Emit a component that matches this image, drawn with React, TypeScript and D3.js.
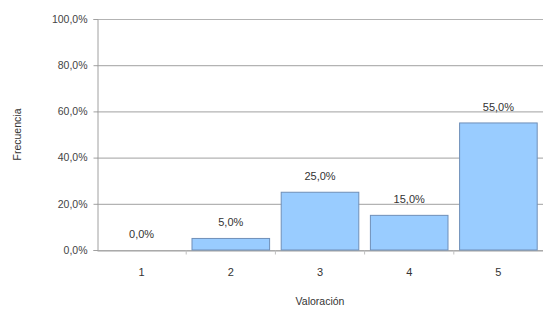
import * as d3 from 'd3';
import React, { useRef, useEffect } from 'react';

const categories = ['1', '2', '3', '4', '5'];
const frequencies = [0.0, 5.0, 25.0, 15.0, 55.0];
const yTicks = [0, 20, 40, 60, 80, 100];

const fmt = (v: number) => v.toFixed(1).replace('.', ',') + '%';

function App() {
    const ref = useRef<SVGSVGElement>(null);

    useEffect(() => {
        const width = 543;
        const height = 313;
        const margin = { top: 19, right: 0, bottom: 63, left: 97 };

        const svg = d3.select(ref.current)
            .attr('width', width)
            .attr('height', height);
        svg.selectAll('*').remove();

        svg.append('rect').attr('width', width).attr('height', height).attr('fill', '#ffffff');

        const x = d3.scaleBand()
            .domain(categories)
            .range([margin.left, width - margin.right])
            .paddingInner(0.13)
            .paddingOuter(0.065);

        const y = d3.scaleLinear()
            .domain([0, 100])
            .range([height - margin.bottom, margin.top]);

        const font = 'Liberation Sans, Arial, sans-serif';

        // grid lines
        svg.append('g')
            .selectAll('line')
            .data(yTicks)
            .join('line')
            .attr('x1', margin.left)
            .attr('x2', width)
            .attr('y1', d => y(d) + 0.5)
            .attr('y2', d => y(d) + 0.5)
            .attr('stroke', '#b3b3b3')
            .attr('stroke-width', 1.2);

        // y axis
        const yAxis = svg.append('g')
            .attr('transform', `translate(${margin.left + 0.5},0)`)
            .call(d3.axisLeft(y).tickValues(yTicks).tickSize(4).tickPadding(6).tickFormat(d => fmt(+d)));
        yAxis.select('.domain').attr('stroke', '#a0a0a0');
        yAxis.selectAll('.tick line').attr('stroke', '#a0a0a0');
        yAxis.selectAll('text')
            .attr('fill', '#444')
            .style('font-family', font)
            .style('font-size', '10.5px');

        // x axis, ticks sit between categories
        const xAxis = svg.append('g')
            .attr('transform', `translate(0,${y(0) + 0.5})`)
            .call(d3.axisBottom(x).tickSize(0).tickPadding(18));
        xAxis.select('.domain').attr('stroke', '#a0a0a0');
        xAxis.selectAll('text')
            .attr('fill', '#333')
            .style('font-family', font)
            .style('font-size', '11px');
        xAxis.append('g')
            .selectAll('line')
            .data(categories.slice(1))
            .join('line')
            .attr('x1', d => x(d)! - x.step() * x.paddingInner() / 2)
            .attr('x2', d => x(d)! - x.step() * x.paddingInner() / 2)
            .attr('y1', 0)
            .attr('y2', 4)
            .attr('stroke', '#c0c0c0');

        // bars
        svg.append('g')
            .selectAll('rect')
            .data(frequencies)
            .join('rect')
            .attr('x', (d, i) => x(categories[i])!)
            .attr('width', x.bandwidth())
            .attr('y', d => y(d))
            .attr('height', d => y(0) - y(d))
            .attr('fill', '#99ccff')
            .attr('stroke', d => d > 0 ? '#6f8fb8' : 'none')
            .attr('stroke-width', 1);

        // value labels
        svg.append('g')
            .selectAll('text')
            .data(frequencies)
            .join('text')
            .attr('x', (d, i) => x(categories[i])! + x.bandwidth() / 2)
            .attr('y', d => y(d) - 12)
            .attr('text-anchor', 'middle')
            .attr('fill', '#333')
            .style('font-family', font)
            .style('font-size', '11px')
            .text(d => fmt(d));

        // axis titles
        svg.append('text')
            .attr('x', (margin.left + width) / 2)
            .attr('y', 305)
            .attr('text-anchor', 'middle')
            .attr('fill', '#333')
            .style('font-family', font)
            .style('font-size', '10.5px')
            .text('Valoración');

        svg.append('text')
            .attr('transform', `translate(21,${(y(0) + y(100)) / 2}) rotate(-90)`)
            .attr('text-anchor', 'middle')
            .attr('fill', '#333')
            .style('font-family', font)
            .style('font-size', '10.5px')
            .text('Frecuencia');
    }, []);

    return (
        <div style={{ position: 'absolute', left: 0, top: 0 }}>
            <svg ref={ref} style={{ display: 'block' }}></svg>
        </div>
    );
}

export default App;
